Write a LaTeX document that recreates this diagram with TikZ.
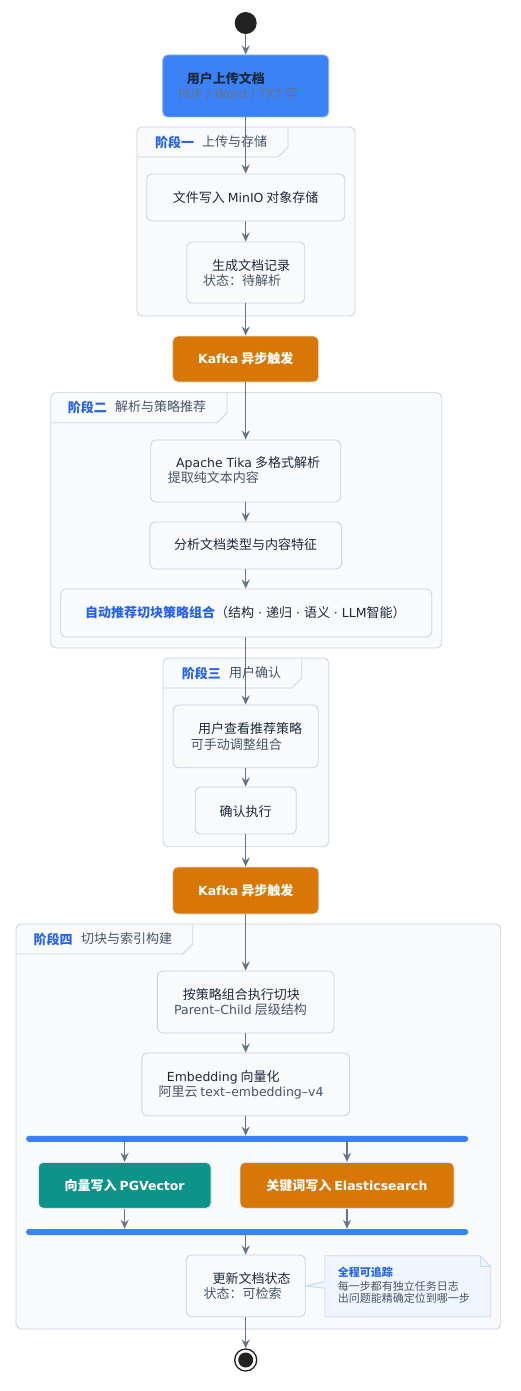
\documentclass[tikz,border=0pt]{standalone}
\usepackage{fontspec}
\setmainfont{Noto Sans CJK SC}
\newfontfamily\lat[Scale=0.96]{DejaVu Sans}
\usetikzlibrary{arrows.meta}
\definecolor{arrowc}{HTML}{64748B}
\definecolor{bordc}{HTML}{CBD5E1}
\definecolor{boxfill}{HTML}{F8FAFC}
\definecolor{phasefill}{HTML}{F8FAFC}
\definecolor{ttlc}{HTML}{1E293B}
\definecolor{subc}{HTML}{475569}
\definecolor{bluec}{HTML}{3B82F6}
\definecolor{bluetxt}{HTML}{2563EB}
\definecolor{orangec}{HTML}{D97706}
\definecolor{tealc}{HTML}{0D9488}
\definecolor{notefill}{HTML}{EFF6FF}
\definecolor{notebord}{HTML}{BFDBFE}
\definecolor{darkc}{HTML}{222222}
\definecolor{uploadsub}{HTML}{6B7280}
\begin{document}
\begin{tikzpicture}[x=1pt,y=-1pt,
  arr/.style={draw=arrowc, line width=1.3pt, -{Stealth[length=9pt,width=8pt,inset=3pt]}},
  stepbox/.style={draw=bordc, fill=boxfill, rounded corners=5pt, line width=0.9pt, inner sep=0pt},
  phasebox/.style={draw=bordc, fill=phasefill, rounded corners=5pt, line width=0.9pt, inner sep=0pt},
  tabline/.style={draw=bordc, line width=0.9pt},
  colorbox/.style={draw=bordc!60, rounded corners=5pt, line width=0.9pt, inner sep=0pt, text=white, font=\fontsize{13}{15}\selectfont\bfseries},
  ttl/.style={anchor=west, inner sep=0pt, font=\fontsize{13}{15}\selectfont, text=ttlc},
  ctr/.style={inner sep=0pt, font=\fontsize{13}{15}\selectfont, text=ttlc},
  sub/.style={anchor=west, inner sep=0pt, font=\fontsize{13}{15}\selectfont, text=subc},
  phlabel/.style={anchor=west, inner sep=0pt, font=\fontsize{13}{15}\selectfont\bfseries, text=bluetxt},
  phname/.style={anchor=west, inner sep=0pt, font=\fontsize{13}{15}\selectfont, text=subc},
  bar/.style={fill=bluec, rounded corners=3pt, inner sep=0pt, minimum width=442.3pt, minimum height=6pt},
  notetxt/.style={anchor=west, inner sep=0pt, font=\fontsize{11}{13}\selectfont, text=subc}
]
\useasboundingbox (0,0) rectangle (520,1391);
\fill[white] (0,0) rectangle (520,1391);

% ---------- phase containers ----------
\node[phasebox, minimum width=218pt, minimum height=189pt] (p1) at (246,221.5) {};
\draw[tabline] (137,157) -- (278,157) -- (288,147) -- (288,127);
\node[phlabel] (p1l) at (155,142) {阶段一};
\node[phname] (p1n) at (202,142) {上传与存储};

\node[phasebox, minimum width=391pt, minimum height=255.3pt] (p2) at (246.2,520.35) {};
\draw[tabline] (50.7,422.7) -- (217,422.7) -- (227,412.7) -- (227,392.7);
\node[phlabel] (p2l) at (67.7,407) {阶段二};
\node[phname] (p2n) at (115,407) {解析与策略推荐};

\node[phasebox, minimum width=165.7pt, minimum height=188.7pt] (p3) at (245.85,752.35) {};
\draw[tabline] (163,688) -- (291.7,688) -- (301.7,678) -- (301.7,658);
\node[phlabel] (p3l) at (181.7,673) {阶段三};
\node[phname] (p3n) at (229,673) {用户确认};

\node[phasebox, minimum width=484.7pt, minimum height=405pt] (p4) at (258.35,1126.5) {};
\draw[tabline] (16,954) -- (182.7,954) -- (192.7,944) -- (192.7,924);
\node[phlabel] (p4l) at (33.3,939) {阶段四};
\node[phname] (p4n) at (81,939) {切块与索引构建};

% ---------- start ----------
\node[circle, fill=darkc, minimum size=22pt, inner sep=0pt] (start) at (245.7,23) {};

% ---------- boxes ----------
\node[colorbox, fill=bluec, draw=bluec!60!white, minimum width=166pt, minimum height=62pt] (upload) at (245.7,86) {};
\node[ttl, font=\fontsize{13}{15}\selectfont\bfseries] (uploadt) at (186.7,79) {用户上传文档};
\node[sub, text=uploadsub] (uploads) at (178,93.5) {{\lat PDF / Word / TXT} 等};

\node[stepbox, minimum width=198pt, minimum height=47pt] (minio) at (245.7,197.5) {};
\node[ctr] (miniot) at (245.7,198) {文件写入 {\lat MinIO} 对象存储};

\node[stepbox, minimum width=118pt, minimum height=61pt] (record) at (245.7,272.5) {};
\node[ttl] (recordt) at (212,266) {生成文档记录};
\node[sub] (records) at (203,281) {状态：待解析};

\node[colorbox, fill=orangec, minimum width=146pt, minimum height=46pt] (kafka1) at (245.7,359) {{\lat Kafka} 异步触发};

\node[stepbox, minimum width=190pt, minimum height=62pt] (tika) at (245.7,471) {};
\node[ttl] (tikat) at (176,463) {{\lat Apache Tika} 多格式解析};
\node[sub] (tikas) at (167.7,478) {提取纯文本内容};

\node[stepbox, minimum width=191.7pt, minimum height=47pt] (analyze) at (245.7,545.5) {};
\node[ctr] (analyzet) at (245.7,545) {分析文档类型与内容特征};

\node[stepbox, minimum width=371pt, minimum height=48pt] (recommend) at (246.2,613) {};
\node[ttl] (recommendt) at (85,613) {{\color{bluetxt}\bfseries 自动推荐切块策略组合}（结构{\lat\ ·\ }递归{\lat\ ·\ }语义{\lat\ ·\ LLM}智能）};

\node[stepbox, minimum width=145pt, minimum height=62.7pt] (review) at (245.7,736.35) {};
\node[ttl] (reviewt) at (198,729) {用户查看推荐策略};
\node[sub] (reviews) at (190.7,745) {可手动调整组合};

\node[stepbox, minimum width=101pt, minimum height=47pt] (confirm) at (245.7,810.5) {};
\node[ctr] (confirmt) at (245.7,811.5) {确认执行};

\node[colorbox, fill=orangec, minimum width=146.3pt, minimum height=47pt] (kafka2) at (245.7,890.5) {{\lat Kafka} 异步触发};

\node[stepbox, minimum width=176.6pt, minimum height=62pt] (chunk) at (245.7,1002) {};
\node[ttl] (chunkt) at (182.7,994.3) {按策略组合执行切块};
\node[sub] (chunks) at (174,1010) {{\lat Parent–Child} 层级结构};

\node[stepbox, minimum width=207.7pt, minimum height=62.7pt] (embed) at (245.7,1084.35) {};
\node[ttl] (embedt) at (166.7,1077.3) {{\lat Embedding} 向量化};
\node[sub] (embeds) at (158.3,1092.7) {阿里云 {\lat text–embedding–v4}};

\node[bar] (fork) at (247.15,1138.85) {};

\node[colorbox, fill=tealc, minimum width=172.7pt, minimum height=46pt] (vec) at (124.65,1185.3) {向量写入 {\lat PGVector}};
\node[colorbox, fill=orangec, minimum width=214pt, minimum height=46pt] (es) at (347,1185.3) {关键词写入 {\lat Elasticsearch}};

\node[bar] (join) at (247.15,1232) {};

\node[stepbox, minimum width=119pt, minimum height=61.7pt] (update) at (245.7,1285.85) {};
\node[ttl] (updatet) at (212.3,1278.3) {更新文档状态};
\node[sub] (updates) at (203.3,1293.3) {状态：可检索};

% ---------- note ----------
\coordinate (notetip) at (update.east);
\filldraw[fill=notefill, draw=notebord, line width=0.9pt]
  (325,1255.7) -- (480,1255.7) -- (490.7,1266.4) -- (490.7,1316.7) -- (325,1316.7)
  -- (325,1288.3) -- (notetip) -- (325,1281.7) -- cycle;
\draw[draw=notebord, line width=0.9pt] (480,1255.7) -- (480,1266.4) -- (490.7,1266.4);
\node[notetxt, font=\fontsize{11}{13}\selectfont\bfseries, text=bluetxt] (note1) at (337.7,1272) {全程可追踪};
\node[notetxt] (note2) at (337.7,1286) {每一步都有独立任务日志};
\node[notetxt] (note3) at (337.7,1298.5) {出问题能精确定位到哪一步};

% ---------- end ----------
\node[circle, draw=darkc, fill=white, line width=1.3pt, minimum size=22pt, inner sep=0pt] (endo) at (245.7,1360) {};
\node[circle, fill=darkc, minimum size=15pt, inner sep=0pt] (endi) at (245.7,1360) {};

% ---------- connectors ----------
\draw[arr] (start) -- (upload);
\draw[arr] (upload) -- (minio);
\draw[arr] (minio) -- (record);
\draw[arr] (record) -- (kafka1);
\draw[arr] (kafka1) -- (tika);
\draw[arr] (tika) -- (analyze);
\draw[arr] (analyze.south) -- (analyze.south |- recommend.north);
\draw[arr] (recommend.south -| review.north) -- (review.north);
\draw[arr] (review) -- (confirm);
\draw[arr] (confirm) -- (kafka2);
\draw[arr] (kafka2) -- (chunk);
\draw[arr] (chunk) -- (embed);
\draw[arr] (embed.south) -- (embed.south |- fork.north);
\draw[arr] (fork.south -| vec.north) -- (vec.north);
\draw[arr] (fork.south -| es.north) -- (es.north);
\draw[arr] (vec.south) -- (vec.south |- join.north);
\draw[arr] (es.south) -- (es.south |- join.north);
\draw[arr] (join.south -| update.north) -- (update.north);
\draw[arr] (update) -- (endo);
\end{tikzpicture}
\end{document}
